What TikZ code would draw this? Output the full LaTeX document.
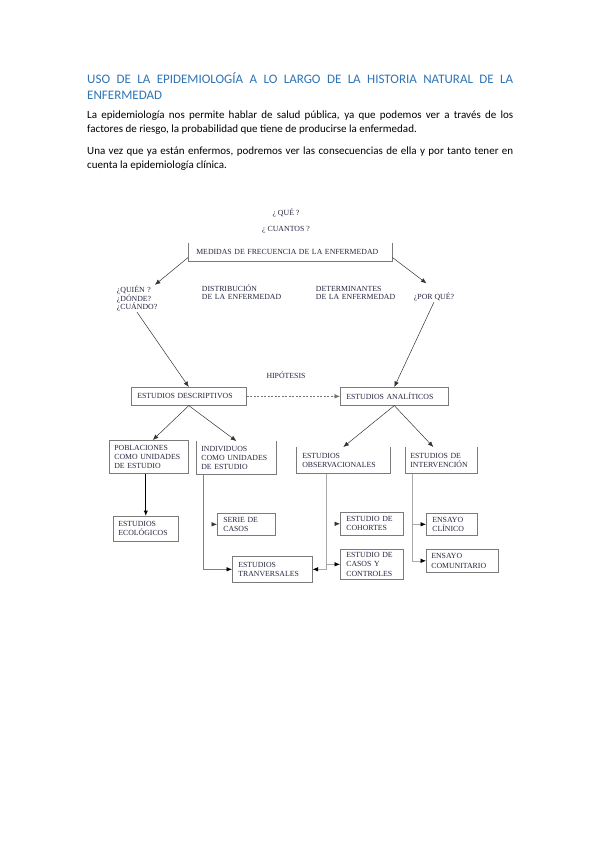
\documentclass[tikz,border=0pt]{standalone}
\usepackage{fontspec}
\setmainfont{Liberation Serif}
\newfontfamily\calibri{Carlito}
\usepackage{xcolor}
\usetikzlibrary{arrows.meta}

\definecolor{titulo}{HTML}{2E74B5}
\definecolor{tinta}{HTML}{24243F}
\definecolor{borde}{HTML}{7A7A7A}
\definecolor{guia}{HTML}{A8A8A8}
\newcommand{\diag}{\fontsize{7.8}{9.3}\selectfont\hyphenpenalty=10000\exhyphenpenalty=10000}
\newcommand{\diagl}{\fontsize{7.8}{8.5}\selectfont\hyphenpenalty=10000}

\tikzset{
  caja/.style={draw=borde, line width=0.6pt, anchor=north west, inner xsep=6pt, inner ysep=0pt, align=left, text=tinta, font=\diag},
  abierta/.style={caja, draw=none},
  etiqueta/.style={anchor=base west, inner sep=0.75pt, align=left, text=tinta, font=\diagl},
  flecha/.style={-{Latex[length=5.5pt,width=4.5pt]}, line width=0.5pt, draw=black!80},
  rama/.style={-{Latex[length=5.5pt,width=4.5pt,color=black]}, line width=0.6pt, draw=guia},
}

\begin{document}
\begin{tikzpicture}[x=1pt,y=-1pt]
\useasboundingbox (0,0) rectangle (599,848);
% texto
\node[anchor=base west, inner sep=0pt, text width=426pt, align=justify, text=titulo, font=\calibri\fontsize{13}{16}\selectfont] (titulo) at (87,84) {USO DE LA EPIDEMIOLOGÍA A LO LARGO DE LA HISTORIA NATURAL DE LA\linebreak ENFERMEDAD};
\node[anchor=base west, inner sep=0pt, text width=426pt, align=justify, font=\calibri\fontsize{11}{14.5}\selectfont] (parrafo1) at (87,118) {La epidemiología nos permite hablar de salud pública, ya que podemos ver a través de los\linebreak factores de riesgo, la probabilidad que tiene de producirse la enfermedad.};
\node[anchor=base west, inner sep=0pt, text width=426pt, align=justify, font=\calibri\fontsize{11}{14.5}\selectfont] (parrafo2) at (87,154) {Una vez que ya están enfermos, podremos ver las consecuencias de ella y por tanto tener en\linebreak cuenta la epidemiología clínica.};

% etiquetas
\node[etiqueta, anchor=base] (que) at (286,215.5) {¿ QUÉ ?};
\node[etiqueta, anchor=base] (cuantos) at (286,231) {¿ CUANTOS ?};
\node[etiqueta, text width=40pt] (quien) at (116,292.5) {¿QUIÉN ?\\¿DÓNDE?\\¿CUÁNDO?};
\node[etiqueta, text width=90pt] (distribucion) at (201,291) {DISTRIBUCIÓN\\DE LA ENFERMEDAD};
\node[etiqueta, text width=90pt] (determinantes) at (315,291) {DETERMINANTES\\DE LA ENFERMEDAD};
\node[etiqueta] (porque) at (413,299.5) {¿POR QUÉ?};
\node[etiqueta, anchor=base] (hipotesis) at (286,378) {HIPÓTESIS};

% cajas
\node[abierta, inner xsep=8pt, minimum width=204pt, minimum height=18pt, text width=188pt] (medidas) at (188,243) {MEDIDAS DE FRECUENCIA DE LA ENFERMEDAD};
\node[caja, minimum width=115pt, minimum height=18pt, text width=103pt] (descriptivos) at (131,387) {ESTUDIOS DESCRIPTIVOS};
\node[caja, minimum width=108pt, minimum height=18pt, text width=96pt] (analiticos) at (340,387) {ESTUDIOS ANALÍTICOS};
\node[caja, inner xsep=5pt, minimum width=79pt, minimum height=33pt, text width=69pt] (poblaciones) at (109,440) {POBLACIONES\\COMO UNIDADES\\DE ESTUDIO};
\node[abierta, inner xsep=5pt, minimum width=80pt, minimum height=33pt, text width=70pt] (individuos) at (196,441) {INDIVIDUOS\\COMO UNIDADES\\DE ESTUDIO};
\node[abierta, minimum width=94pt, minimum height=26pt, text width=82pt] (observacionales) at (296,447) {ESTUDIOS\\OBSERVACIONALES};
\node[abierta, inner xsep=5pt, minimum width=72pt, minimum height=26pt, text width=62pt] (intervencion) at (405,447) {ESTUDIOS DE\\INTERVENCIÓN};
\node[caja, inner xsep=5pt, minimum width=65pt, minimum height=25pt, text width=55pt] (ecologicos) at (113,516) {ESTUDIOS\\ECOLÓGICOS};
\node[caja, minimum width=58pt, minimum height=22pt, text width=46pt] (serie) at (217,513) {SERIE DE\\CASOS};
\node[caja, minimum width=80pt, minimum height=26pt, text width=68pt] (transversales) at (232,556) {ESTUDIOS\\TRANVERSALES};
\node[caja, minimum width=63pt, minimum height=23pt, text width=51pt] (cohortes) at (340,512) {ESTUDIO DE\\COHORTES};
\node[caja, minimum width=63pt, minimum height=30pt, text width=51pt] (casos) at (340,549) {ESTUDIO DE\\CASOS Y\\CONTROLES};
\node[caja, minimum width=51pt, minimum height=22pt, text width=39pt] (clinico) at (426,513) {ENSAYO\\CLÍNICO};
\node[caja, inner xsep=5pt, minimum width=72pt, minimum height=23pt, text width=62pt] (comunitario) at (426,549) {ENSAYO\\COMUNITARIO};

% cajas sin borde superior
\foreach \n in {medidas,individuos,observacionales,intervencion}
  \draw[draw=borde, line width=0.6pt] (\n.north west) -- (\n.south west) -- (\n.south east) -- (\n.north east);

% flechas
\draw[flecha] ([yshift=4pt]medidas.south west) -- ([xshift=-3pt]quien.north east);
\draw[flecha] ([yshift=4pt]medidas.south east) -- ([xshift=-7.5pt,yshift=8.5pt]porque.north);
\draw[flecha] (quien.south) -- (descriptivos.north);
\draw[flecha] (porque.south) -- (analiticos.north);
\draw[flecha, draw=black!55, dash pattern=on 2pt off 1.5pt] (descriptivos.east) -- (analiticos.west);
\draw[flecha] (descriptivos.south) -- ([xshift=4pt]poblaciones.north);
\draw[flecha] (descriptivos.south) -- (individuos.north);
\draw[flecha] (analiticos.south) -- (observacionales.north);
\draw[flecha] (analiticos.south) -- ([xshift=-8pt]intervencion.north);
\draw[flecha, draw=black, line width=1pt] (poblaciones.south -| ecologicos.north) -- (ecologicos.north);
\draw[rama, draw=black!50] ([xshift=7pt]individuos.south west) |- (transversales.west);
\draw[flecha] ([xshift=-5pt]serie.west) -- (serie.west);
\draw[rama] ([xshift=30pt]observacionales.south west) |- (transversales.east);
\draw[rama] ([xshift=30pt]observacionales.south west) |- (casos.west);
\draw[flecha] ([xshift=-5pt]cohortes.west) -- (cohortes.west);
\draw[rama] ([xshift=7pt]intervencion.south west) |- (clinico.west);
\draw[rama] ([xshift=7pt]intervencion.south west) |- (comunitario.west);
\end{tikzpicture}
\end{document}
